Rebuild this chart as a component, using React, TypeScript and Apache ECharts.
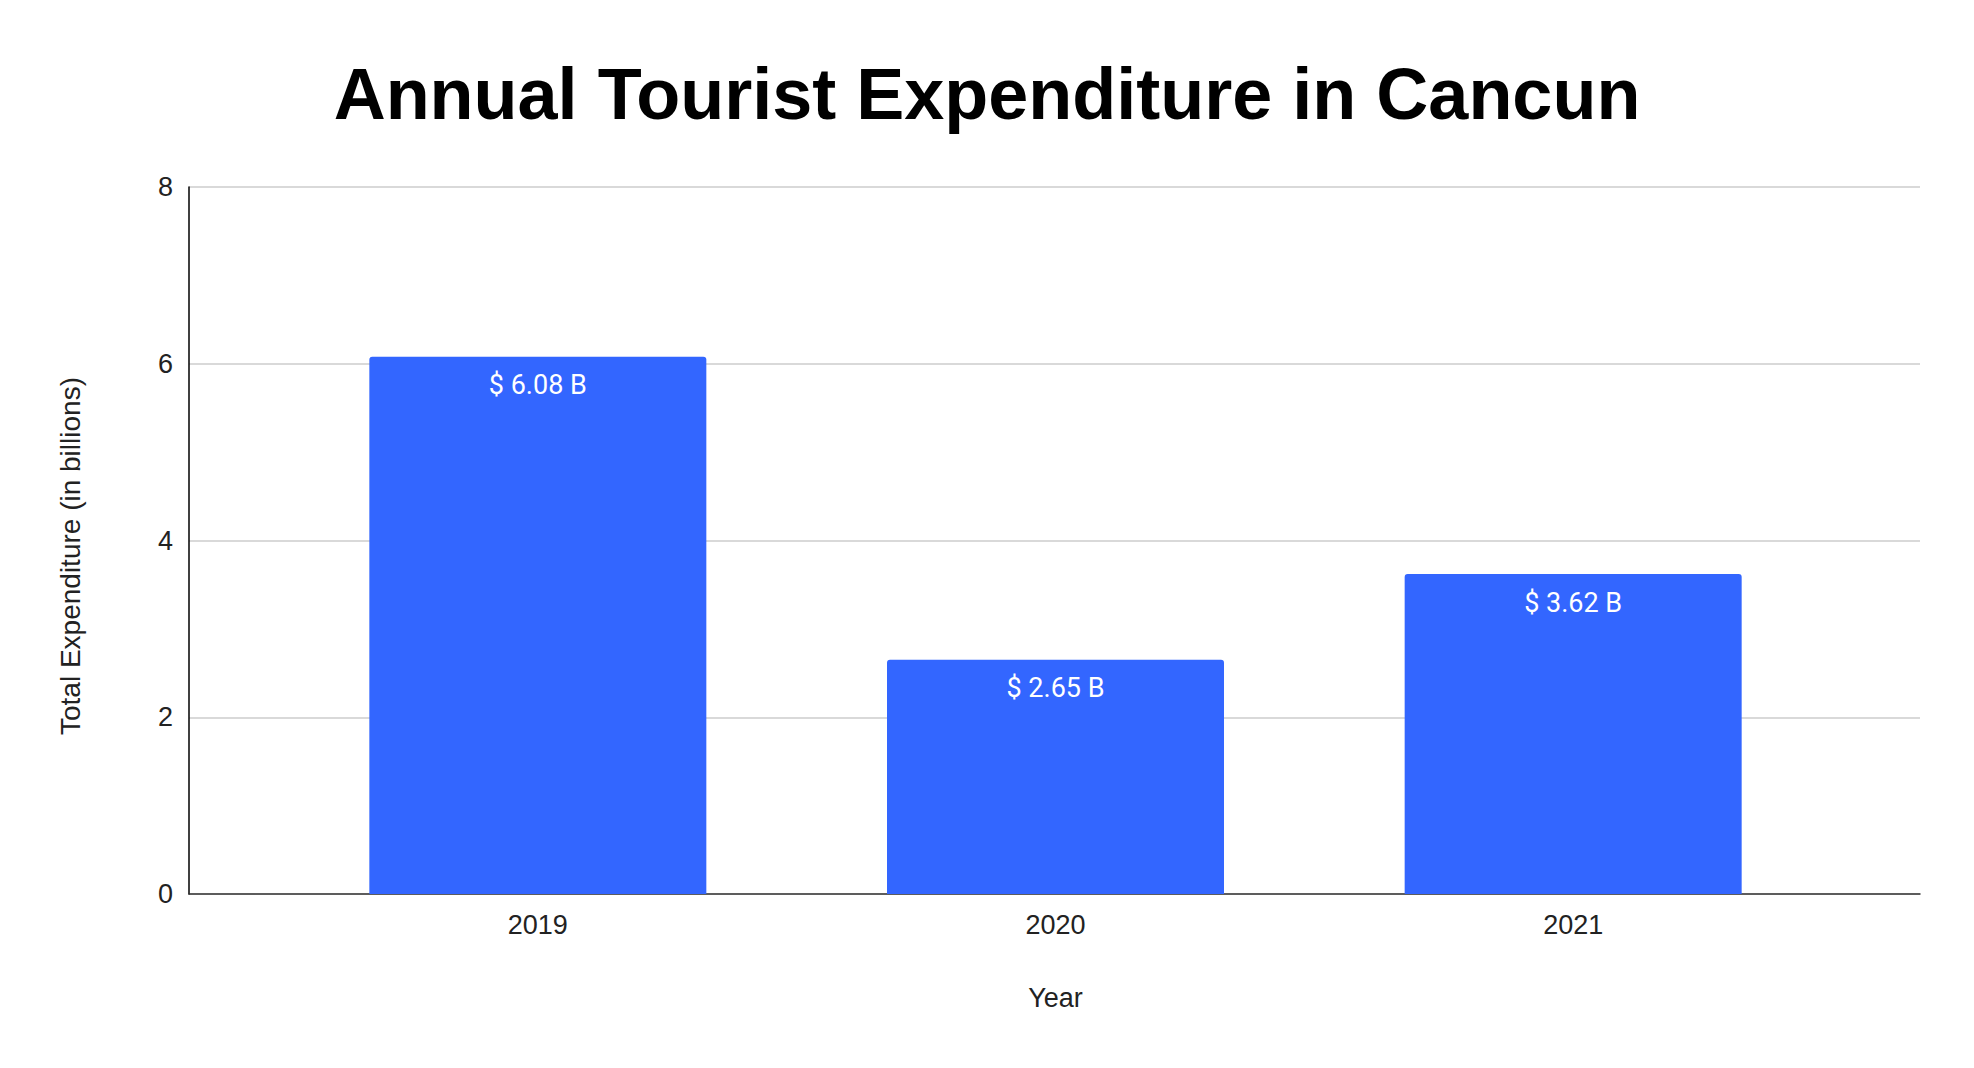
import React, { useEffect, useRef } from 'react'
import * as echarts from 'echarts'

const titleText = 'Annual Tourist Expenditure in Cancun'
const years = ['2019', '2020', '2021']
const expenditure = [6.08, 2.65, 3.62]
const yTicks = { min: 0, max: 8, interval: 2 }
const yAxisTitle = 'Total Expenditure (in billions)'
const xAxisTitle = 'Year'

const barColor = '#3366ff'
const axisFont = 'Arial, "Liberation Sans", sans-serif'

const App: React.FC = () => {
  const chartRef = useRef<HTMLDivElement>(null)

  useEffect(() => {
    if (!chartRef.current) return
    const chart = echarts.init(chartRef.current, null, { renderer: 'svg' })

    const options = {
      animation: false,
      backgroundColor: '#ffffff',
      title: {
        text: titleText,
        left: 'center',
        top: 53,
        textStyle: {
          fontSize: 72,
          fontWeight: 'bold',
          fontFamily: axisFont,
          color: '#000000',
        },
      },
      // y axis title placed by hand, it sits a little below the plot middle
      graphic: [
        {
          type: 'text',
          x: 70,
          y: 556,
          rotation: Math.PI / 2,
          style: {
            text: yAxisTitle,
            fontSize: 28,
            fontFamily: axisFont,
            fill: '#222222',
            textAlign: 'center',
            textVerticalAlign: 'middle',
          },
        },
      ],
      // wide grid: gridlines, y axis, baseline
      // narrow grid: category bands for the bars
      grid: [
        { left: 189, right: 54, top: 187, bottom: 174 },
        { left: 279, right: 142, top: 187, bottom: 174 },
      ],
      xAxis: [
        {
          gridIndex: 0,
          type: 'value',
          min: 0,
          max: 1,
          axisLine: { show: true, onZero: false, lineStyle: { color: '#333333', width: 1.5 } },
          axisTick: { show: false },
          axisLabel: { show: false },
          splitLine: { show: false },
        },
        {
          gridIndex: 1,
          type: 'category',
          data: years,
          axisLine: { show: false },
          axisTick: { show: false },
          axisLabel: {
            fontSize: 27,
            fontFamily: axisFont,
            color: '#222222',
            margin: 17,
          },
          name: xAxisTitle,
          nameLocation: 'middle',
          nameGap: 90,
          nameTextStyle: {
            fontSize: 27,
            fontFamily: axisFont,
            color: '#222222',
          },
        },
      ],
      yAxis: [
        {
          gridIndex: 0,
          type: 'value',
          ...yTicks,
          axisLine: { show: true, lineStyle: { color: '#000000', width: 1.5 } },
          axisTick: { show: false },
          axisLabel: {
            fontSize: 27,
            fontFamily: axisFont,
            color: '#222222',
            margin: 16,
          },
          splitLine: { show: true, lineStyle: { color: '#cccccc', width: 1.5 } },
        },
        {
          gridIndex: 1,
          type: 'value',
          ...yTicks,
          show: false,
        },
      ],
      series: [
        {
          type: 'bar',
          xAxisIndex: 1,
          yAxisIndex: 1,
          data: expenditure,
          barWidth: 337,
          itemStyle: { color: barColor, borderRadius: [3, 3, 0, 0] },
          label: {
            show: true,
            position: 'insideTop',
            distance: 15,
            formatter: (p: any) => `$ ${Number(p.value).toFixed(2)} B`,
            fontSize: 27,
            fontFamily: 'Roboto, sans-serif',
            color: '#ffffff',
          },
        },
      ],
    }

    chart.setOption(options)
    return () => {
      chart.dispose()
    }
  }, [])

  return (
    <div
      ref={chartRef}
      style={{ position: 'fixed', left: 0, top: 0, width: '100vw', height: '100vh' }}
    />
  )
}

export default App
